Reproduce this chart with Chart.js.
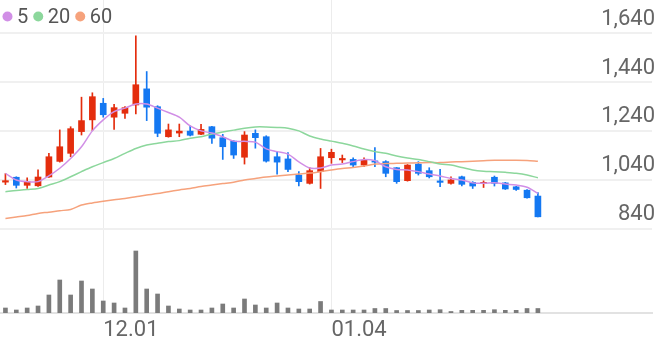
<!DOCTYPE html>
<html>
<head>
<meta charset="utf-8">
<script src="https://cdn.jsdelivr.net/npm/chart.js@4"></script>
<style>
  html, body { margin: 0; padding: 0; background: #fff; }
  #wrap { width: 658px; height: 342px; }
</style>
</head>
<body>
<div id="wrap"><canvas id="priceChart"></canvas></div>
<script>
// Data
const slotCount = 60; // 50 trading days + empty room on the right for the labels
const dateTicks = { 9: '12.01', 30: '01.04' };
const priceTicks = [840, 1040, 1240, 1440, 1640];

const opens  = [1030,1050,1017,1015,1051,1115,1148,1237,1285,1353,1296,1312,1346,1412,1339,1216,1231,1239,1226,1257,
                1212,1198,1132,1230,1216,1134,1125,1059,1025,1073,1130,1121,1123,1100,1117,1114,1089,1036,1104,1077,
                1035,1025,1052,1029,1025,1050,1027,1011,997,973];
const highs  = [1065,1052,1048,1080,1148,1244,1257,1378,1396,1373,1349,1339,1629,1483,1343,1268,1268,1261,1267,1259,
                1226,1200,1237,1244,1220,1155,1151,1073,1089,1168,1165,1141,1130,1130,1172,1118,1090,1102,1114,1089,
                1082,1052,1055,1032,1035,1055,1029,1013,1000,987];
const lows   = [1020,1006,1004,1012,1049,1112,1134,1223,1241,1296,1246,1291,1309,1282,1216,1214,1216,1219,1224,1189,
                1123,1127,1104,1169,1112,1063,1073,1014,1022,1004,1107,1110,1093,1093,1093,1052,1025,1034,1059,1047,
                1011,1022,1014,1004,1008,1014,1000,996,964,888];
const closes = [1036,1017,1032,1051,1134,1175,1249,1282,1380,1306,1335,1335,1429,1337,1230,1244,1239,1222,1246,1210,
                1175,1141,1223,1212,1116,1112,1082,1032,1077,1134,1152,1127,1100,1120,1112,1066,1032,1100,1066,1052,
                1029,1039,1021,1014,1029,1025,1002,1000,966,888];
const volumes = [50000,30000,50000,70000,180000,330000,180000,320000,240000,120000,100000,50000,620000,240000,190000,
                 70000,40000,30000,30000,50000,90000,50000,140000,80000,50000,100000,50000,40000,40000,115000,
                 30000,30000,30000,30000,45000,45000,25000,25000,25000,30000,33000,15000,27000,27000,27000,
                 33000,27000,27000,45000,45000];
const ma5  = [1066,1039,1032,1032,1056,1087,1127,1175,1240,1285,1319,1333,1350,1350,1333,1315,1296,1260,1240,1231,
              1216,1198,1197,1194,1166,1155,1145,1113,1088,1088,1100,1104,1114,1123,1118,1093,1082,1080,1073,1063,
              1055,1045,1039,1027,1025,1027,1022,1018,1009,984];
const ma20 = [991,996,1000,1004,1018,1032,1052,1073,1093,1110,1127,1148,1168,1182,1189,1196,1200,1210,1216,1227,
              1235,1243,1251,1256,1256,1254,1251,1240,1219,1207,1198,1189,1178,1166,1155,1148,1137,1129,1123,1114,
              1104,1100,1090,1080,1075,1073,1070,1066,1059,1048];
const ma60 = [881,887,893,902,907,913,918,936,945,952,958,963,970,977,983,991,998,1004,1012,1018,
              1024,1030,1039,1045,1051,1055,1059,1063,1067,1073,1080,1086,1090,1096,1104,1106,1107,1108,1109,1110,
              1110,1112,1114,1116,1118,1120,1120,1120,1119,1116];

const UP = '#e42d0d';
const DOWN = '#1478f2';
const labels = Array.from({ length: slotCount }, (_, i) => dateTicks[i] || '');
const candleColors = closes.map((c, i) => c >= opens[i] ? UP : DOWN);

const ctx = document.getElementById('priceChart').getContext('2d');
Chart.defaults.font.family = 'Roboto';
Chart.defaults.color = '#666';

// legend row in the top-left corner, over the plot
const maLegend = {
    id: 'maLegend',
    afterDraw(chart) {
        const c = chart.ctx;
        const y = 16.5;
        let x = 2.5;
        c.save();
        c.font = '20px Roboto';
        c.textBaseline = 'middle';
        chart.data.datasets.filter(ds => ds.type === 'line').forEach(ds => {
            c.fillStyle = ds.borderColor;
            c.beginPath();
            c.arc(x + 5, y, 5, 0, Math.PI * 2);
            c.fill();
            c.fillStyle = '#555';
            c.fillText(ds.label, x + 14.5, y + 1);
            x += 14.5 + c.measureText(ds.label).width + 5;
        });
        c.restore();
    }
};

function maLine(label, data, color) {
    return {
        type: 'line',
        label: label,
        data: data,
        borderColor: color,
        backgroundColor: color,
        borderWidth: 1.5,
        pointRadius: 0,
        tension: 0.3,
        yAxisID: 'y',
        order: 0
    };
}

new Chart(ctx, {
    type: 'bar',
    data: {
        labels: labels,
        datasets: [
            maLine('5', ma5, '#d18fe6'),
            maLine('20', ma20, '#8cd79c'),
            maLine('60', ma60, '#f6a27c'),
            {
                label: 'body',
                data: opens.map((o, i) => [o, closes[i]]),
                backgroundColor: candleColors,
                barThickness: 6,
                minBarLength: 1,
                grouped: false,
                yAxisID: 'y',
                order: 1
            },
            {
                label: 'wick',
                data: lows.map((l, i) => [l, highs[i]]),
                backgroundColor: candleColors,
                barThickness: 1,
                grouped: false,
                yAxisID: 'y',
                order: 2
            },
            {
                label: 'volume',
                data: volumes,
                backgroundColor: '#7b7b7b',
                barThickness: 4,
                grouped: false,
                yAxisID: 'vol',
                order: 3
            }
        ]
    },
    plugins: [maLegend],
    options: {
        responsive: true,
        maintainAspectRatio: false,
        animation: false,
        layout: { padding: 0 },
        plugins: {
            tooltip: { enabled: false },
            legend: { display: false }
        },
        scales: {
            x: {
                offset: true,
                grid: {
                    offset: false,
                    drawTicks: false,
                    color: c => (labels[c.index] ? '#ececec' : 'rgba(0,0,0,0)'),
                    lineWidth: 1
                },
                border: { display: true, color: '#e2e2e2', width: 2 },
                ticks: {
                    autoSkip: false,
                    maxRotation: 0,
                    align: 'start',
                    padding: 4,
                    font: { size: 22 },
                    color: '#666',
                    callback: (v, i) => labels[i]
                },
                afterFit: s => { s.height = 29; s.paddingLeft = 0; s.paddingRight = 0; }
            },
            y: {
                position: 'right',
                min: 494,
                max: 1776,
                afterBuildTicks: s => { s.ticks = priceTicks.map(v => ({ value: v })); },
                afterFit: s => { s.paddingTop = 0; s.paddingBottom = 0; },
                grid: { drawTicks: false, color: '#f0f0f0', lineWidth: 2 },
                border: { display: false },
                ticks: {
                    mirror: true,
                    padding: 3,
                    labelOffset: -14,
                    font: { size: 22 },
                    color: '#666',
                    callback: v => v.toLocaleString('en-US')
                }
            },
            vol: {
                display: false,
                min: 0,
                max: 3130000
            }
        }
    }
});
</script>
</body>
</html>
